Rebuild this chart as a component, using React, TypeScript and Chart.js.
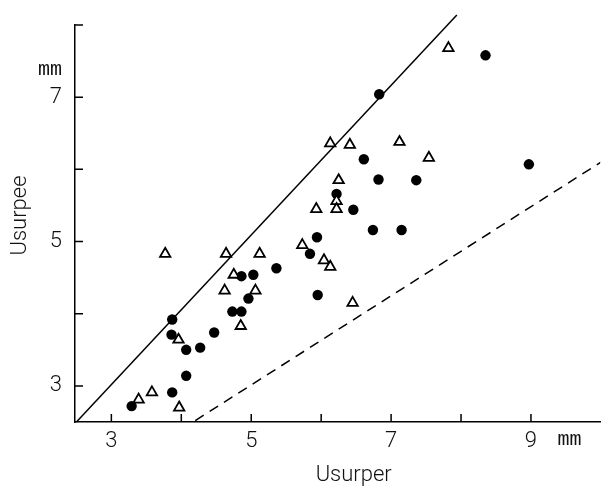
import { useEffect, useRef } from 'react';
import { Chart, registerables } from 'chart.js';

Chart.register(...registerables);

// Filled circles
const filledX = [3.29, 3.87, 4.07, 3.87, 3.86, 4.07, 4.27, 4.47, 4.73, 4.86, 4.96, 4.86, 5.03, 5.36, 5.95, 5.84, 5.94, 6.22, 6.46, 6.61, 6.82, 6.74, 7.15, 7.36, 6.83, 8.35, 8.97];
const filledY = [2.72, 2.91, 3.14, 3.92, 3.71, 3.5, 3.53, 3.74, 4.03, 4.03, 4.21, 4.52, 4.54, 4.63, 4.26, 4.83, 5.06, 5.66, 5.44, 6.14, 5.86, 5.16, 5.16, 5.85, 7.04, 7.58, 6.07];

// Open triangles
const triX = [3.39, 3.58, 3.97, 3.96, 3.77, 4.64, 5.12, 4.75, 4.62, 5.06, 4.85, 6.13, 6.41, 7.12, 7.54, 6.25, 6.22, 6.22, 5.93, 5.73, 6.04, 6.13, 6.45, 7.82];
const triY = [2.81, 2.91, 2.7, 3.64, 4.83, 4.83, 4.83, 4.54, 4.32, 4.32, 3.83, 6.36, 6.34, 6.38, 6.16, 5.85, 5.56, 5.45, 5.45, 4.95, 4.74, 4.65, 4.15, 7.68];

// Reference lines
const solidX = [2.5, 7.94];
const solidY = [2.5, 8.14];
const dashedX = [4.2, 10];
const dashedY = [2.52, 6.1];

// Axes
const xTickMarks = [3, 4, 5, 6, 7, 8, 9];
const yTickMarks = [3, 4, 5, 6, 7, 8];
const xLabelValues = [3, 5, 7, 9];
const yLabelValues = [3, 5, 7];
const xUnitPos = 9.55;
const yUnitPos = 7.38;
const unitLabel = 'mm';
const xTitle = '      Usurper';
const yTitle = '   Usurpee';

const pts = (xs: number[], ys: number[]) => xs.map((x, i) => ({ x, y: ys[i] }));

const labelFont = { family: 'Roboto, "Liberation Sans", sans-serif', size: 22, weight: '300' as any };
const unitFont = { family: '"Liberation Mono", "DejaVu Sans Mono", monospace', size: 20 };

const innerTicks = {
  id: 'innerTicks',
  afterDatasetsDraw(chart: any) {
    const { ctx, chartArea, scales } = chart;
    ctx.save();
    ctx.strokeStyle = '#000';
    ctx.lineWidth = 1.5;
    ctx.beginPath();
    xTickMarks.forEach((v) => {
      const px = scales.x.getPixelForValue(v);
      ctx.moveTo(px, chartArea.bottom);
      ctx.lineTo(px, chartArea.bottom - 8);
    });
    yTickMarks.forEach((v) => {
      const py = scales.y.getPixelForValue(v);
      ctx.moveTo(chartArea.left, py);
      ctx.lineTo(chartArea.left + 8, py);
    });
    ctx.stroke();
    ctx.restore();
  },
};

export default function App() {
  const ref = useRef<HTMLCanvasElement | null>(null);
  useEffect(() => {
    document.body.style.margin = '0';
    const canvas = ref.current;
    if (!canvas) return;
    const chart = new Chart(canvas, {
      type: 'scatter',
      data: {
        datasets: [
          {
            label: 'triangles',
            data: pts(triX, triY),
            pointStyle: 'triangle',
            pointRadius: 6,
            pointBackgroundColor: '#fff',
            pointBorderColor: '#000',
            pointBorderWidth: 1.8,
            order: 0,
          },
          {
            label: 'circles',
            data: pts(filledX, filledY),
            pointStyle: 'circle',
            pointRadius: 5.2,
            pointBackgroundColor: '#000',
            pointBorderColor: '#000',
            pointBorderWidth: 0,
            order: 1,
          },
          {
            label: 'solid',
            data: pts(solidX, solidY),
            showLine: true,
            borderColor: '#000',
            borderWidth: 1.5,
            pointRadius: 0,
            clip: false as any,
            order: 2,
          },
          {
            label: 'dashed',
            data: pts(dashedX, dashedY),
            showLine: true,
            borderColor: '#000',
            borderWidth: 1.5,
            borderDash: [10, 7],
            pointRadius: 0,
            order: 3,
          },
        ],
      },
      options: {
        responsive: false,
        animation: false,
        layout: { padding: { top: 23, right: 0, bottom: 0, left: 0 } },
        plugins: { legend: { display: false }, tooltip: { enabled: false } },
        scales: {
          x: {
            type: 'linear',
            min: 2.48,
            max: 9.99,
            afterFit: (s: any) => {
              s.height = 68;
            },
            afterBuildTicks: (s: any) => {
              s.ticks = [...xLabelValues, xUnitPos].map((v) => ({ value: v }));
            },
            grid: { display: false, drawTicks: false },
            border: { display: true, color: '#000', width: 1.5 },
            ticks: {
              autoSkip: false,
              maxRotation: 0,
              padding: 6,
              color: '#111',
              font: (c: any) => (c.tick && c.tick.value === xUnitPos ? unitFont : labelFont),
              callback: (v: any) => (v === xUnitPos ? unitLabel : String(v)),
            },
            title: {
              display: true,
              text: xTitle,
              color: '#111',
              font: labelFont,
              padding: { top: 0, bottom: 1 },
            },
          },
          y: {
            type: 'linear',
            min: 2.5,
            max: 8,
            afterFit: (s: any) => {
              s.width = 75;
            },
            afterBuildTicks: (s: any) => {
              s.ticks = [...yLabelValues, yUnitPos].map((v) => ({ value: v }));
            },
            grid: { display: false, drawTicks: false },
            border: { display: true, color: '#000', width: 1.5 },
            ticks: {
              autoSkip: false,
              padding: 13,
              color: '#111',
              font: (c: any) => (c.tick && c.tick.value === yUnitPos ? unitFont : labelFont),
              callback: (v: any) => (v === yUnitPos ? unitLabel : String(v)),
            },
            title: {
              display: true,
              text: yTitle,
              color: '#111',
              font: labelFont,
              padding: { top: 7, bottom: 0 },
            },
          },
        },
      },
      plugins: [innerTicks],
    });
    return () => chart.destroy();
  }, []);
  return <canvas ref={ref} width={608} height={490} style={{ display: 'block' }} />;
}
